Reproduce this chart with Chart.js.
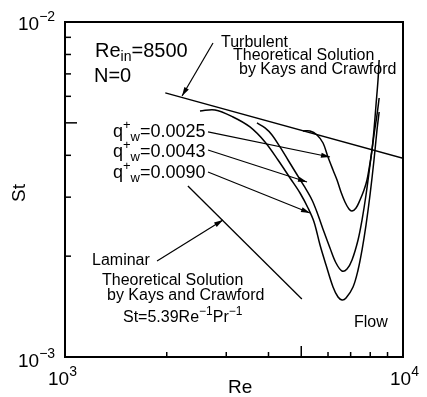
<!DOCTYPE html>
<html>
<head>
<meta charset="utf-8">
<script src="https://cdn.jsdelivr.net/npm/chart.js@4.4.0/dist/chart.umd.min.js"></script>
<style>
  html, body { margin: 0; padding: 0; background: #fff; }
  #wrap { width: 427px; height: 397px; }
</style>
</head>
<body>
<div id="wrap"><canvas id="chart"></canvas></div>
<script>
// measured curves, Re along x, St along y
const re0090 = [2508, 2779, 3141, 3526, 3906, 4268, 4632, 4958, 5236, 5455, 5682, 5920, 6208, 6423, 6600, 6783, 7115, 7362, 7564, 7772, 7987, 8207, 8377, 8500];
const st0090 = [0.005425, 0.005462, 0.005206, 0.004861, 0.004384, 0.003873, 0.003423, 0.003087, 0.002785, 0.002529, 0.002159, 0.001882, 0.001618, 0.001510, 0.001480, 0.001500, 0.001618, 0.001818, 0.002086, 0.002477, 0.003045, 0.003873, 0.004762, 0.005388];

const re0043 = [3698, 3906, 4097, 4326, 4569, 4824, 5095, 5380, 5605, 5840, 6081, 6336, 6600, 6829, 7066, 7362, 7564, 7772, 7987, 8207, 8377, 8500];
const st0043 = [0.004996, 0.004828, 0.004601, 0.004236, 0.003873, 0.003542, 0.003240, 0.002942, 0.002654, 0.002360, 0.002115, 0.001908, 0.001806, 0.001831, 0.001948, 0.002235, 0.002564, 0.003045, 0.003742, 0.004601, 0.005279, 0.005930];

const re0025 = [5060, 5307, 5567, 5800, 5999, 6208, 6380, 6554, 6735, 6921, 7066, 7262, 7461, 7667, 7825, 7987, 8096, 8207, 8320, 8435, 8500];
const st0025 = [0.004729, 0.004729, 0.004601, 0.004354, 0.003954, 0.003616, 0.003376, 0.003108, 0.002902, 0.002765, 0.002728, 0.002785, 0.002942, 0.003151, 0.003376, 0.003794, 0.004150, 0.004762, 0.005653, 0.006713, 0.007700];

// theoretical lines (end points)
const turbRe = [1980, 10000];
const turbSt = [0.00614, 0.00392];
const lamRe = [2310, 5020];
const lamSt = [0.00324, 0.00149];

// annotation arrows: [from, to]
const arrowRe = [[2741, 2220], [1872, 2934], [2649, 6081], [2649, 5200], [2649, 5307]];
const arrowSt = [[0.008657, 0.006013], [0.001935, 0.002564], [0.004697, 0.003954], [0.004150, 0.003330], [0.003566, 0.002691]];

const xTicks = [2000, 3000, 4000, 5000, 6000, 7000, 8000, 9000];
const xLong = [5000];
const yTicks = [0.002, 0.003, 0.004, 0.005, 0.006, 0.007, 0.008, 0.009];
const yLong = [0.005];

function toPts(xs, ys) {
  return xs.map((x, i) => ({x: x, y: ys[i]}));
}

const FONT = '"Liberation Sans", Arial, sans-serif';

// rich text: parts with optional sup / sub
function drawRich(ctx, x, y, size, parts) {
  let cx = x;
  parts.forEach(p => {
    let s = size, dy = 0;
    if (p.sup) { s = Math.round(size * 0.72); dy = -size * 0.45; }
    if (p.sub) { s = Math.round(size * 0.72); dy = size * 0.2; }
    ctx.font = s + 'px ' + FONT;
    ctx.fillText(p.t, cx, y + dy);
    cx += ctx.measureText(p.t).width;
  });
}

const labels = [
  {x: 95, y: 57, size: 20, parts: [{t: 'Re'}, {t: 'in', sub: 1}, {t: '=8500'}]},
  {x: 94, y: 82, size: 20, parts: [{t: 'N=0'}]},
  {x: 221, y: 47, size: 16, parts: [{t: 'Turbulent'}]},
  {x: 233, y: 60, size: 16, parts: [{t: 'Theoretical Solution'}]},
  {x: 239, y: 74, size: 16, parts: [{t: 'by Kays and Crawford'}]},
  {x: 113, y: 137, size: 18, parts: [{t: 'q'}, {t: '+', sup: 1}, {t: 'w', sub: 1}, {t: '=0.0025'}]},
  {x: 113, y: 157, size: 18, parts: [{t: 'q'}, {t: '+', sup: 1}, {t: 'w', sub: 1}, {t: '=0.0043'}]},
  {x: 113, y: 178, size: 18, parts: [{t: 'q'}, {t: '+', sup: 1}, {t: 'w', sub: 1}, {t: '=0.0090'}]},
  {x: 92, y: 265, size: 16, parts: [{t: 'Laminar'}]},
  {x: 102, y: 285, size: 16, parts: [{t: 'Theoretical Solution'}]},
  {x: 107, y: 300, size: 16, parts: [{t: 'by Kays and Crawford'}]},
  {x: 123, y: 322, size: 16, parts: [{t: 'St=5.39Re'}, {t: '\u22121', sup: 1}, {t: 'Pr'}, {t: '\u22121', sup: 1}]},
  {x: 354, y: 327, size: 16, parts: [{t: 'Flow'}]},
  // axis numbers
  {x: 18, y: 30, size: 19, parts: [{t: '10'}, {t: '\u22122', sup: 1}]},
  {x: 18, y: 367, size: 19, parts: [{t: '10'}, {t: '\u22123', sup: 1}]},
  {x: 48, y: 385, size: 19, parts: [{t: '10'}, {t: '3', sup: 1}]},
  {x: 390, y: 385, size: 19, parts: [{t: '10'}, {t: '4', sup: 1}]},
  {x: 228, y: 393, size: 19, parts: [{t: 'Re'}]},
];

const framePlugin = {
  id: 'frame',
  afterDatasetsDraw(chart) {
    const ctx = chart.ctx;
    const a = chart.chartArea;
    const xs = chart.scales.x, ys = chart.scales.y;
    ctx.save();
    ctx.strokeStyle = '#000';
    ctx.fillStyle = '#000';

    // arrowheads
    chart.data.datasets.forEach((ds, i) => {
      if (!ds.arrow) return;
      const pts = chart.getDatasetMeta(i).data;
      const p0 = pts[0], p1 = pts[pts.length - 1];
      const ang = Math.atan2(p1.y - p0.y, p1.x - p0.x);
      const L = 9, W = 2.6;
      ctx.beginPath();
      ctx.moveTo(p1.x, p1.y);
      ctx.lineTo(p1.x - L * Math.cos(ang) + W * Math.sin(ang), p1.y - L * Math.sin(ang) - W * Math.cos(ang));
      ctx.lineTo(p1.x - L * Math.cos(ang) - W * Math.sin(ang), p1.y - L * Math.sin(ang) + W * Math.cos(ang));
      ctx.closePath();
      ctx.fill();
    });

    // box
    ctx.lineWidth = 2;
    ctx.strokeRect(a.left, a.top, a.right - a.left, a.bottom - a.top);

    // inward ticks
    ctx.lineWidth = 1.5;
    xTicks.forEach(v => {
      const px = xs.getPixelForValue(v);
      const len = xLong.includes(v) ? 11 : 5;
      ctx.beginPath();
      ctx.moveTo(px, a.bottom);
      ctx.lineTo(px, a.bottom - len);
      ctx.stroke();
    });
    yTicks.forEach(v => {
      const py = ys.getPixelForValue(v);
      const len = yLong.includes(v) ? 12 : 6;
      ctx.beginPath();
      ctx.moveTo(a.left, py);
      ctx.lineTo(a.left + len, py);
      ctx.stroke();
    });

    // texts
    ctx.textBaseline = 'alphabetic';
    ctx.textAlign = 'left';
    labels.forEach(l => drawRich(ctx, l.x, l.y, l.size, l.parts));

    ctx.save();
    ctx.translate(25, 193);
    ctx.rotate(-Math.PI / 2);
    ctx.textAlign = 'center';
    ctx.font = '19px ' + FONT;
    ctx.fillText('St', 0, 0);
    ctx.restore();

    ctx.restore();
  }
};

const lineStyle = {borderColor: '#000', borderWidth: 1.5, pointRadius: 0, showLine: true, fill: false};

const datasets = [
  Object.assign({data: toPts(re0090, st0090), tension: 0.35}, lineStyle),
  Object.assign({data: toPts(re0043, st0043), tension: 0.35}, lineStyle),
  Object.assign({data: toPts(re0025, st0025), tension: 0.35}, lineStyle),
  Object.assign({data: toPts(turbRe, turbSt), tension: 0}, lineStyle, {borderWidth: 1.3}),
  Object.assign({data: toPts(lamRe, lamSt), tension: 0}, lineStyle, {borderWidth: 1.3}),
];
arrowRe.forEach((r, i) => {
  datasets.push(Object.assign({data: toPts(r, arrowSt[i]), tension: 0, arrow: true}, lineStyle, {borderWidth: 1.2}));
});

new Chart(document.getElementById('chart'), {
  type: 'scatter',
  data: {datasets: datasets},
  options: {
    responsive: true,
    maintainAspectRatio: false,
    animation: false,
    layout: {padding: {left: 65, top: 22, right: 24, bottom: 40}},
    plugins: {legend: {display: false}, tooltip: {enabled: false}},
    scales: {
      x: {type: 'logarithmic', min: 1000, max: 10000, display: false},
      y: {type: 'logarithmic', min: 0.001, max: 0.01, display: false}
    }
  },
  plugins: [framePlugin]
});
</script>
</body>
</html>
